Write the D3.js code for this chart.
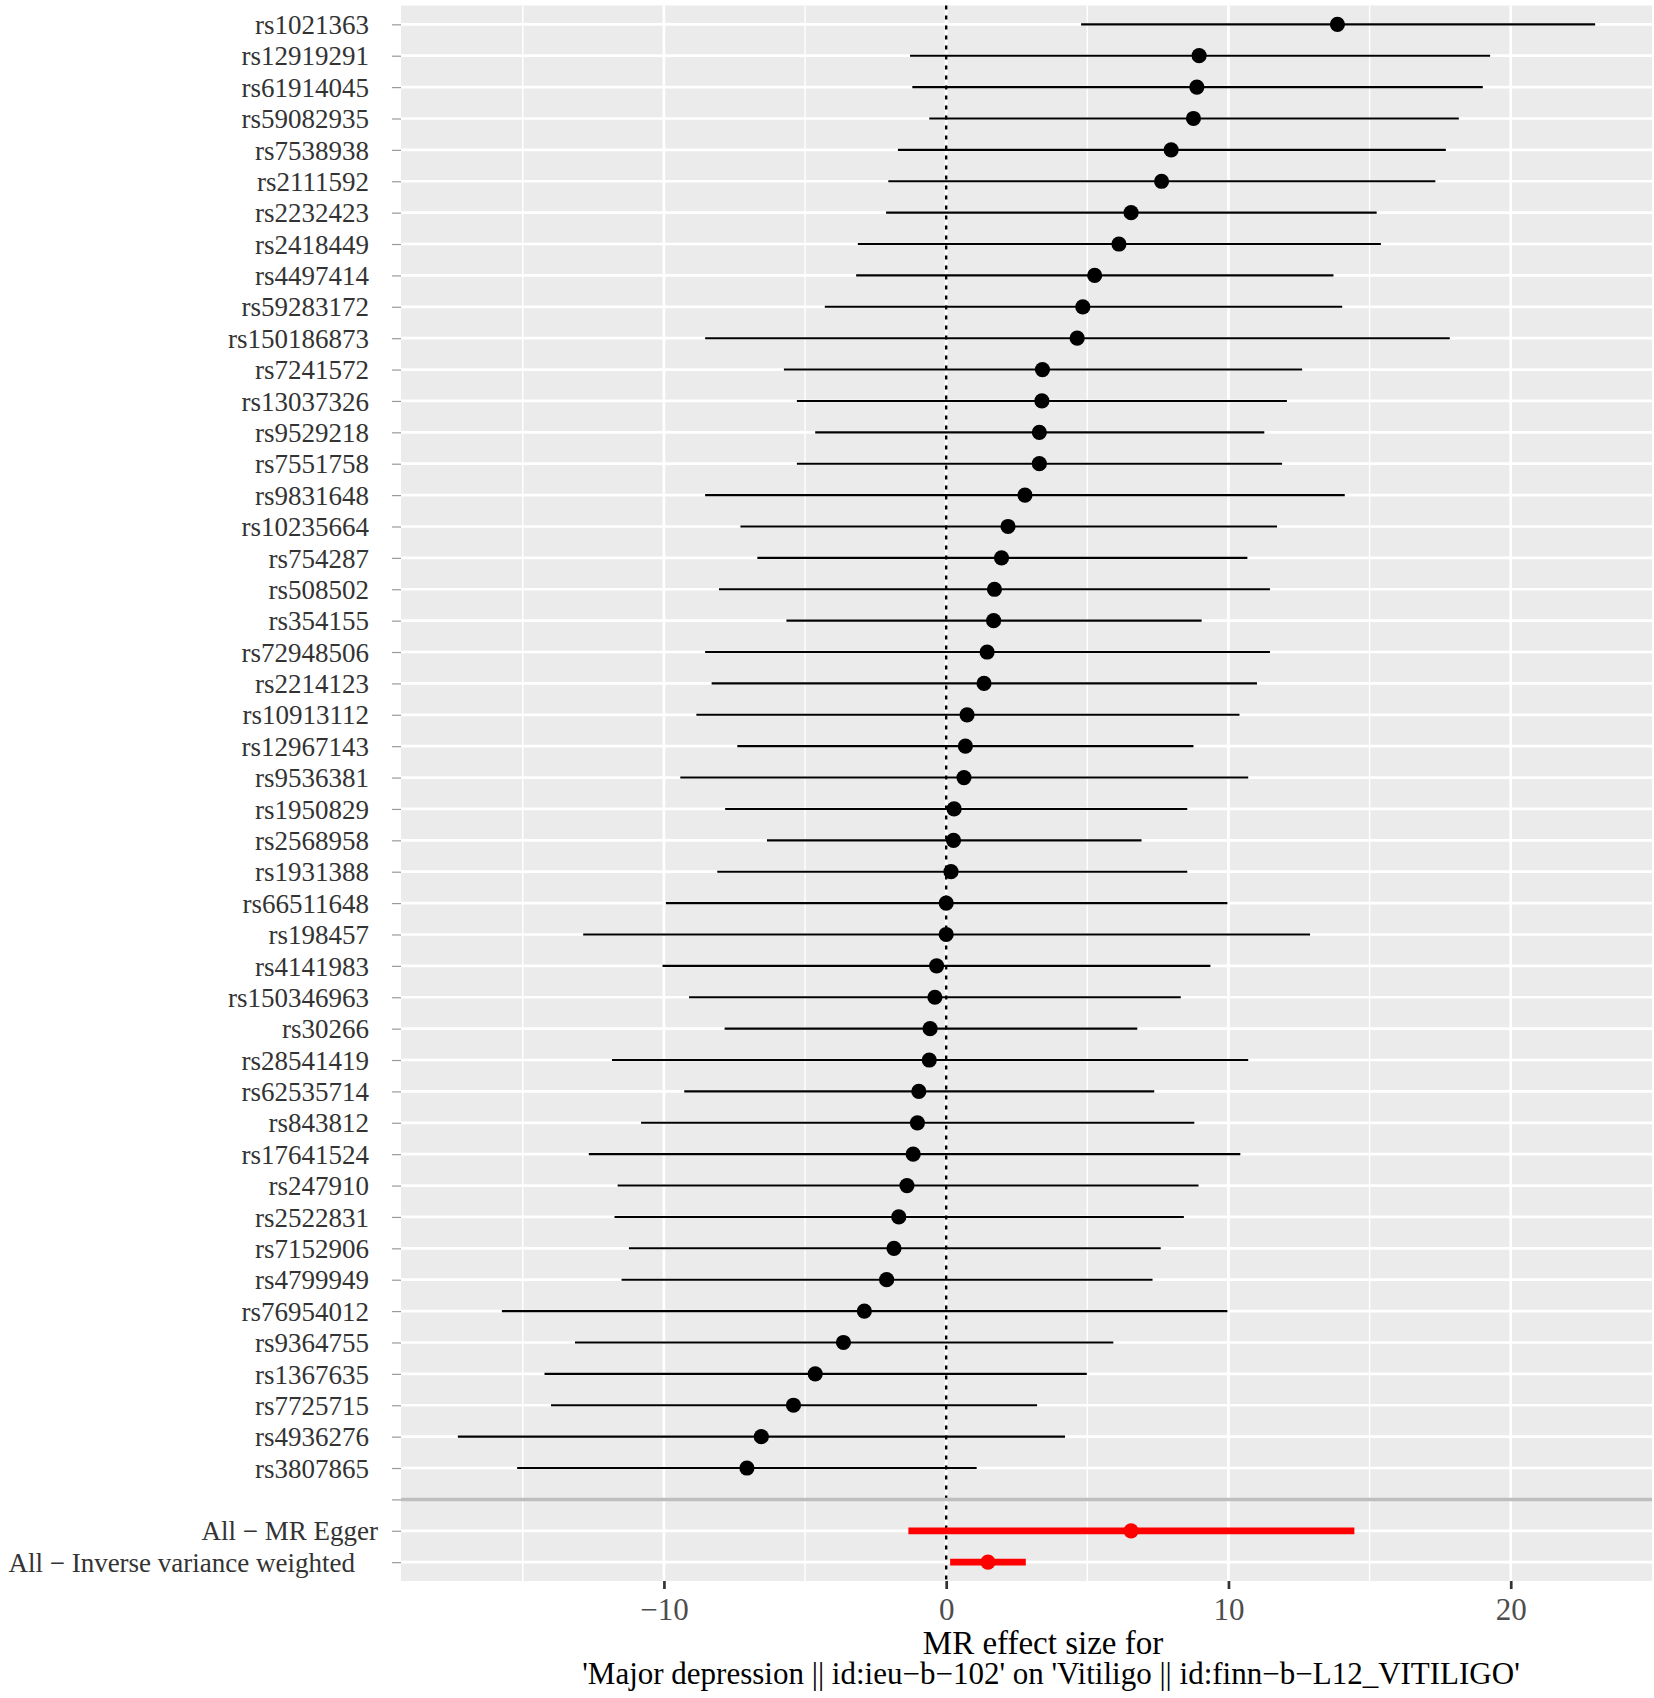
<!DOCTYPE html>
<html>
<head>
<meta charset="utf-8">
<script src="https://cdn.jsdelivr.net/npm/d3@7/dist/d3.min.js"></script>
<style>
    body { margin: 0; background: #fff; }
    text { font-family: "Liberation Serif", "Times New Roman", serif; }
</style>
</head>
<body>
<div id="divforest"></div>
<script>

var width = 1654, height = 1698;

// single SNP estimates, top row first
var snps = ["rs1021363", "rs12919291", "rs61914045", "rs59082935", "rs7538938", "rs2111592",
    "rs2232423", "rs2418449", "rs4497414", "rs59283172", "rs150186873", "rs7241572",
    "rs13037326", "rs9529218", "rs7551758", "rs9831648", "rs10235664", "rs754287",
    "rs508502", "rs354155", "rs72948506", "rs2214123", "rs10913112", "rs12967143",
    "rs9536381", "rs1950829", "rs2568958", "rs1931388", "rs66511648", "rs198457",
    "rs4141983", "rs150346963", "rs30266", "rs28541419", "rs62535714", "rs843812",
    "rs17641524", "rs247910", "rs2522831", "rs7152906", "rs4799949", "rs76954012",
    "rs9364755", "rs1367635", "rs7725715", "rs4936276", "rs3807865"];

var snpEst = [13.86, 8.96, 8.88, 8.76, 7.97, 7.63, 6.55, 6.12, 5.26, 4.84, 4.64, 3.41,
    3.39, 3.30, 3.30, 2.79, 2.19, 1.96, 1.71, 1.68, 1.45, 1.34, 0.74, 0.68,
    0.63, 0.28, 0.26, 0.17, 0.00, 0.00, -0.34, -0.40, -0.57, -0.60, -0.97, -1.02,
    -1.17, -1.39, -1.68, -1.85, -2.11, -2.90, -3.64, -4.64, -5.41, -6.55, -7.06];

var snpLo = [4.78, -1.28, -1.20, -0.60, -1.71, -2.05, -2.13, -3.13, -3.19, -4.30, -8.54, -5.75,
    -5.29, -4.64, -5.29, -8.54, -7.29, -6.69, -8.05, -5.66, -8.54, -8.31, -8.85, -7.40,
    -9.42, -7.83, -6.35, -8.11, -9.93, -12.86, -10.05, -9.11, -7.85, -11.84, -9.28, -10.81,
    -12.66, -11.64, -11.75, -11.24, -11.50, -15.74, -13.15, -14.23, -14.00, -17.30, -15.20];

var snpHi = [22.99, 19.27, 19.01, 18.16, 17.70, 17.33, 15.25, 15.40, 13.72, 14.03, 17.84, 12.61,
    12.07, 11.27, 11.90, 14.12, 11.72, 10.67, 11.47, 9.05, 11.47, 11.01, 10.39, 8.76,
    10.70, 8.54, 6.92, 8.54, 9.96, 12.89, 9.36, 8.31, 6.77, 10.70, 7.37, 8.79,
    10.42, 8.94, 8.42, 7.60, 7.31, 9.96, 5.92, 4.98, 3.22, 4.21, 1.08];

// pooled MR estimates
var methods = ["All \u2212 MR Egger", "All \u2212 Inverse variance weighted"];
var methodEst = [6.55, 1.48];
var methodLo = [-1.34, 0.14];
var methodHi = [14.46, 2.82];

var xTicks = [-10, 0, 10, 20];
var xMinor = [-15, -5, 5, 15];

var xTitle1 = "MR effect size for";
var xTitle2 = "'Major depression || id:ieu\u2212b\u2212102' on 'Vitiligo || id:finn\u2212b\u2212L12_VITILIGO'";

//*******************************************************
var rows = [];
snps.forEach(function (s, i) {
    rows.push({ SNP: s, b: snpEst[i], lo: snpLo[i], up: snpHi[i], tot: 0 });
});
methods.forEach(function (m, i) {
    rows.push({ SNP: m, b: methodEst[i], lo: methodLo[i], up: methodHi[i], tot: 1 });
});

var levels = snps.concat([""]).concat(methods);

var pleft = 401, pright = 1652, ptop = 5.5, pbottom = 1581;

// ggplot style 5% expansion
var xmin = d3.min(rows, function (d) { return d.lo; }),
    xmax = d3.max(rows, function (d) { return d.up; }),
    xpad = (xmax - xmin) * 0.05;

var x = d3.scaleLinear()
    .domain([xmin - xpad, xmax + xpad])
    .range([pleft, pright]);

var y = d3.scalePoint()
    .domain(levels)
    .range([ptop, pbottom])
    .padding(0.6);

var svg = d3.select("#divforest").append("svg")
    .attr("width", width)
    .attr("height", height);

svg.append("rect")
    .attr("x", pleft)
    .attr("y", ptop)
    .attr("width", pright - pleft)
    .attr("height", pbottom - ptop)
    .style("fill", "#ebebeb");

// grid
svg.selectAll(".minorgrid")
    .data(xMinor)
    .enter()
    .append("line")
    .attr("class", "minorgrid")
    .attr("x1", function (d) { return x(d); })
    .attr("x2", function (d) { return x(d); })
    .attr("y1", ptop)
    .attr("y2", pbottom)
    .style("stroke", "#fff")
    .style("stroke-width", 1.4);

svg.selectAll(".xgrid")
    .data(xTicks)
    .enter()
    .append("line")
    .attr("class", "xgrid")
    .attr("x1", function (d) { return x(d); })
    .attr("x2", function (d) { return x(d); })
    .attr("y1", ptop)
    .attr("y2", pbottom)
    .style("stroke", "#fff")
    .style("stroke-width", 2.7);

svg.selectAll(".ygrid")
    .data(levels)
    .enter()
    .append("line")
    .attr("class", "ygrid")
    .attr("x1", pleft)
    .attr("x2", pright)
    .attr("y1", function (d) { return y(d); })
    .attr("y2", function (d) { return y(d); })
    .style("stroke", "#fff")
    .style("stroke-width", 2.7);

// zero line
svg.append("line")
    .attr("x1", x(0))
    .attr("x2", x(0))
    .attr("y1", ptop)
    .attr("y2", pbottom)
    .style("stroke", "#000")
    .style("stroke-width", 2.4)
    .style("stroke-dasharray", "4,6");

// error bars
svg.selectAll(".ebar")
    .data(rows)
    .enter()
    .append("line")
    .attr("class", "ebar")
    .attr("x1", function (d) { return x(d.lo); })
    .attr("x2", function (d) { return x(d.up); })
    .attr("y1", function (d) { return y(d.SNP); })
    .attr("y2", function (d) { return y(d.SNP); })
    .style("stroke", function (d) { return d.tot ? "#ff0000" : "#000"; })
    .style("stroke-width", function (d) { return d.tot ? 6.7 : 2.1; });

// separator between snps and pooled results
svg.append("line")
    .attr("x1", pleft)
    .attr("x2", pright)
    .attr("y1", y(""))
    .attr("y2", y(""))
    .style("stroke", "#bebebe")
    .style("stroke-width", 3.5);

svg.selectAll(".pt")
    .data(rows)
    .enter()
    .append("circle")
    .attr("class", "pt")
    .attr("cx", function (d) { return x(d.b); })
    .attr("cy", function (d) { return y(d.SNP); })
    .attr("r", 7.6)
    .style("fill", function (d) { return d.tot ? "#ff0000" : "#000"; });

//********************** axes **************************
var yaxis = svg.append("g")
    .attr("transform", "translate(" + pleft + ",0)")
    .call(d3.axisLeft(y).tickSize(9).tickPadding(23));

yaxis.select(".domain").remove();
yaxis.selectAll(".tick line")
    .style("stroke", "#9a9a9a")
    .style("stroke-width", 1.2);

// pooled labels sit a little off in the original
var labelShift = { "All \u2212 MR Egger": 9, "All \u2212 Inverse variance weighted": -14 };

yaxis.selectAll(".tick text")
    .attr("dx", function (d) { return labelShift[d] || 0; })
    .attr("dy", "0.34em")
    .style("font-size", "27px")
    .style("fill", "#333");

var xaxis = svg.append("g")
    .attr("transform", "translate(0," + pbottom + ")")
    .call(d3.axisBottom(x).tickValues(xTicks).tickSize(8).tickPadding(9)
        .tickFormat(function (d) { return d < 0 ? "\u2212" + Math.abs(d) : d; }));

xaxis.select(".domain").remove();
xaxis.selectAll(".tick line")
    .style("stroke", "#333")
    .style("stroke-width", 2.7);
xaxis.selectAll(".tick text")
    .attr("dy", "0.71em")
    .style("font-size", "31px")
    .style("fill", "#4d4d4d");

svg.append("text")
    .attr("x", 1043)
    .attr("y", 1654)
    .attr("text-anchor", "middle")
    .style("font-size", "33px")
    .style("fill", "#000")
    .text(xTitle1);

svg.append("text")
    .attr("x", 1051)
    .attr("y", 1684)
    .attr("text-anchor", "middle")
    .style("font-size", "31px")
    .style("fill", "#000")
    .text(xTitle2);

</script>
</body>
</html>
